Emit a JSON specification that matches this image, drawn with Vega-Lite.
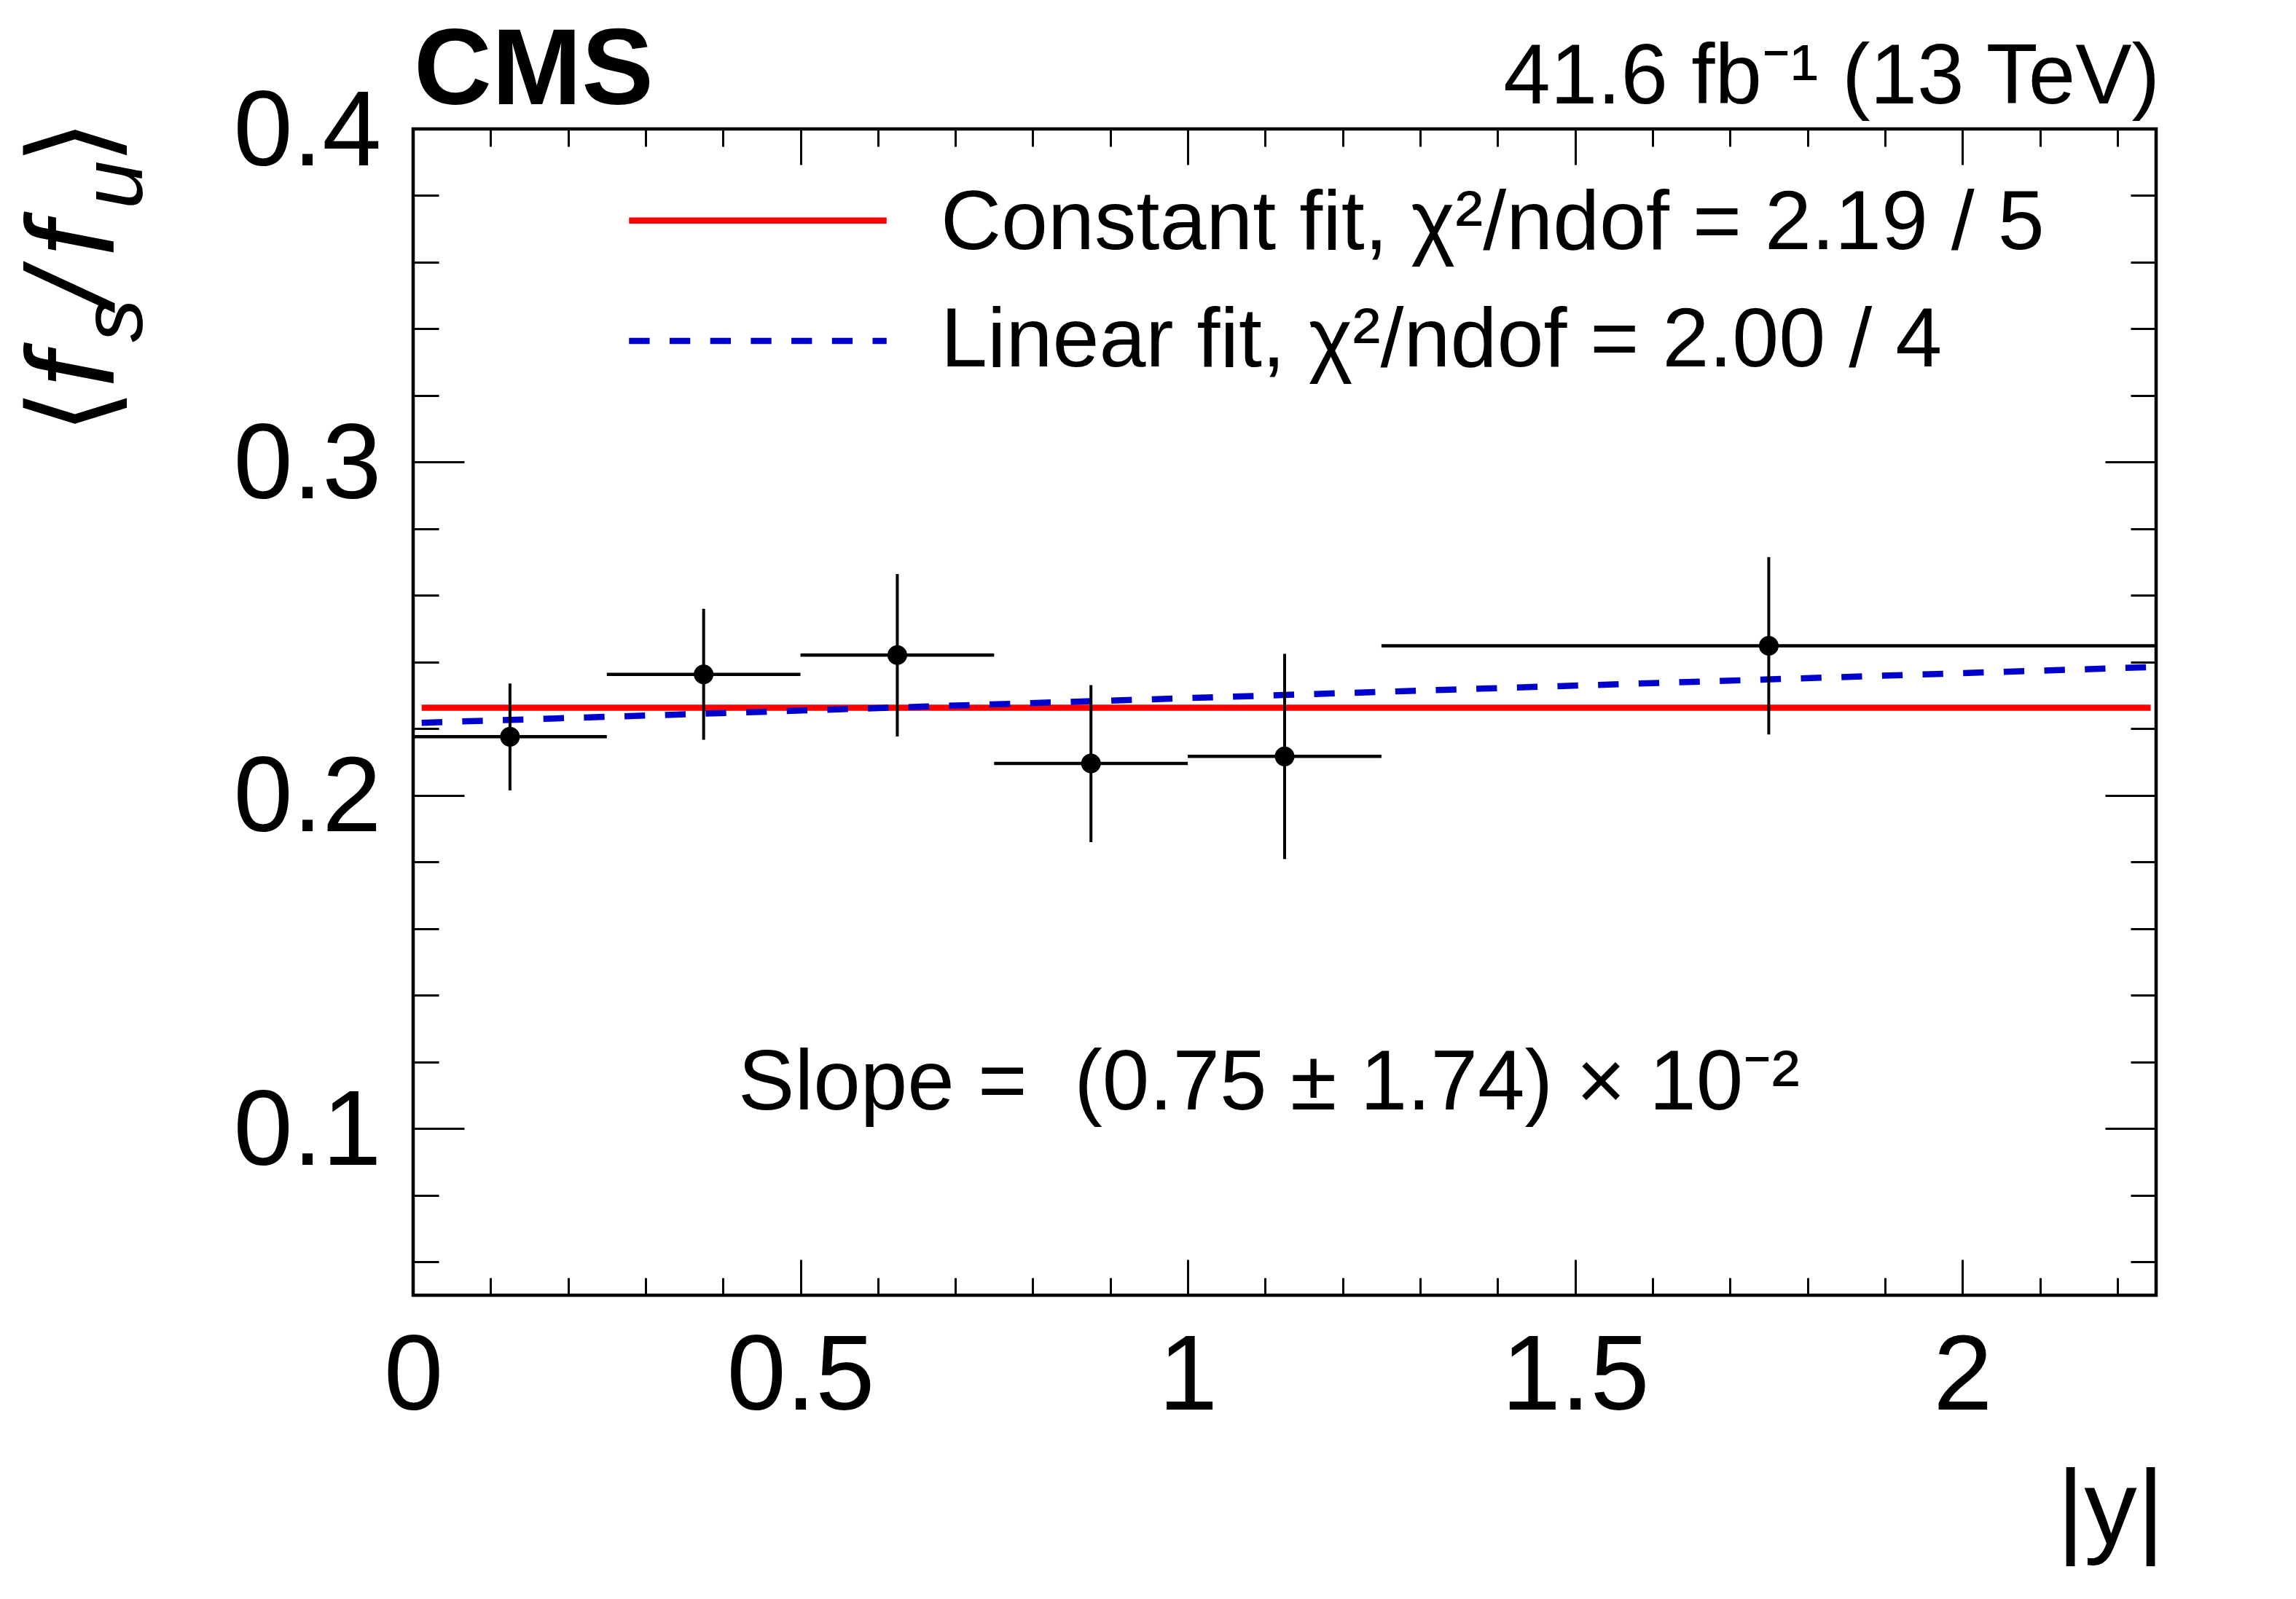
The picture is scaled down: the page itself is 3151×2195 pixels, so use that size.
{
  "$schema": "https://vega.github.io/schema/vega-lite/v6.json",
  "description": "CMS: <fs/fu> versus |y| with constant and linear fits",
  "width": 2392,
  "height": 1601,
  "autosize": {"type": "none"},
  "padding": {"left": 567, "top": 177, "right": 192, "bottom": 417},
  "background": "white",
  "config": {
    "view": {"stroke": "black", "strokeWidth": 4.5},
    "font": "Liberation Sans",
    "axis": {
      "domain": false,
      "grid": false,
      "tickColor": "black",
      "tickWidth": 3,
      "labelColor": "black",
      "labelFont": "Liberation Sans",
      "labelFontSize": 146,
      "labelLimit": 0,
      "labelFlush": false,
      "labelOverlap": false,
      "titleColor": "black",
      "titleFont": "Liberation Sans",
      "titleFontSize": 145,
      "titleFontWeight": "normal",
      "titleLimit": 0
    }
  },
  "datasets": {
    "bins": [
      {"absy": 0.125, "absy_lo": 0.0, "absy_hi": 0.25, "fsfu": 0.2176, "fsfu_lo": 0.2015, "fsfu_hi": 0.2336},
      {"absy": 0.375, "absy_lo": 0.25, "absy_hi": 0.5, "fsfu": 0.2363, "fsfu_lo": 0.2167, "fsfu_hi": 0.2560},
      {"absy": 0.625, "absy_lo": 0.5, "absy_hi": 0.75, "fsfu": 0.2421, "fsfu_lo": 0.2177, "fsfu_hi": 0.2664},
      {"absy": 0.875, "absy_lo": 0.75, "absy_hi": 1.0, "fsfu": 0.2096, "fsfu_lo": 0.1860, "fsfu_hi": 0.2331},
      {"absy": 1.125, "absy_lo": 1.0, "absy_hi": 1.25, "fsfu": 0.2117, "fsfu_lo": 0.1809, "fsfu_hi": 0.2425},
      {"absy": 1.75, "absy_lo": 1.25, "absy_hi": 2.25, "fsfu": 0.2449, "fsfu_lo": 0.2183, "fsfu_hi": 0.2715}
    ],
    "fits": [
      {"fit": "Constant fit", "absy": 0.011, "fsfu": 0.2263},
      {"fit": "Constant fit", "absy": 2.243, "fsfu": 0.2263},
      {"fit": "Linear fit", "absy": 0.011, "fsfu": 0.2218},
      {"fit": "Linear fit", "absy": 2.243, "fsfu": 0.2385}
    ],
    "legend": [
      {"fit": "Constant fit", "x": 0.2787, "x2": 0.6112, "y": 0.3725},
      {"fit": "Linear fit", "x": 0.2787, "x2": 0.6112, "y": 0.3364}
    ],
    "legendText": [
      {"label": "Constant fit, χ²/ndof = 2.19 / 5", "x": 0.681, "y": 0.364},
      {"label": "Linear fit, χ²/ndof = 2.00 / 4", "x": 0.681, "y": 0.3287}
    ]
  },
  "resolve": {"axis": {"x": "independent", "y": "independent"}},
  "layer": [
    {
      "data": {"name": "fits"},
      "mark": {"type": "line", "strokeWidth": 8.5, "clip": false},
      "encoding": {
        "x": {"field": "absy", "type": "quantitative", "scale": {"domain": [0, 2.25], "nice": false, "zero": false},
              "axis": {"orient": "top", "values": [0.1, 0.2, 0.3, 0.4, 0.6, 0.7, 0.8, 0.9, 1.1, 1.2, 1.3, 1.4, 1.6, 1.7, 1.8, 1.9, 2.1, 2.2], "labels": false, "tickSize": -24, "title": null}},
        "y": {"field": "fsfu", "type": "quantitative", "scale": {"domain": [0.05, 0.4], "nice": false, "zero": false},
              "axis": {"orient": "right", "values": [0.06, 0.08, 0.12, 0.14, 0.16, 0.18, 0.22, 0.24, 0.26, 0.28, 0.32, 0.34, 0.36, 0.38], "labels": false, "tickSize": -35, "title": null}},
        "color": {"field": "fit", "type": "nominal", "scale": {"domain": ["Constant fit", "Linear fit"], "range": ["#ff0000", "#0000cc"]}, "legend": null},
        "strokeDash": {"field": "fit", "type": "nominal", "scale": {"domain": ["Constant fit", "Linear fit"], "range": [[1, 0], [28.3, 27.4]]}, "legend": null}
      }
    },
    {
      "data": {"name": "bins"},
      "mark": {"type": "rule", "color": "black", "strokeWidth": 4.5},
      "encoding": {
        "x": {"field": "absy_lo", "type": "quantitative",
              "axis": {"orient": "bottom", "values": [0, 0.5, 1, 1.5, 2], "format": "~g", "ticks": false, "labelPadding": 41,
                       "title": "|y|", "titleAlign": "right", "titleBaseline": "alphabetic", "titleAngle": 0, "titleX": 2403, "titleY": 340}},
        "x2": {"field": "absy_hi"},
        "y": {"field": "fsfu", "type": "quantitative",
              "axis": {"orient": "left", "values": [0.1, 0.2, 0.3, 0.4], "format": "~g", "ticks": false, "labelPadding": 44, "labelOffset": 5, "title": null}}
      }
    },
    {
      "data": {"name": "bins"},
      "mark": {"type": "rule", "color": "black", "strokeWidth": 4},
      "encoding": {
        "x": {"field": "absy", "type": "quantitative",
              "axis": {"orient": "bottom", "values": [0, 0.5, 1, 1.5, 2], "labels": false, "tickSize": -49, "title": null}},
        "y": {"field": "fsfu_lo", "type": "quantitative",
              "axis": {"orient": "left", "values": [0.1, 0.2, 0.3, 0.4], "labels": false, "tickSize": -70, "title": null}},
        "y2": {"field": "fsfu_hi"}
      }
    },
    {
      "data": {"name": "bins"},
      "mark": {"type": "point", "filled": true, "shape": "circle", "size": 730, "color": "black", "opacity": 1},
      "encoding": {
        "x": {"field": "absy", "type": "quantitative",
              "axis": {"orient": "bottom", "values": [0.1, 0.2, 0.3, 0.4, 0.6, 0.7, 0.8, 0.9, 1.1, 1.2, 1.3, 1.4, 1.6, 1.7, 1.8, 1.9, 2.1, 2.2], "labels": false, "tickSize": -24, "title": null}},
        "y": {"field": "fsfu", "type": "quantitative",
              "axis": {"orient": "left", "values": [0.06, 0.08, 0.12, 0.14, 0.16, 0.18, 0.22, 0.24, 0.26, 0.28, 0.32, 0.34, 0.36, 0.38], "labels": false, "tickSize": -35, "title": null}}
      }
    },
    {
      "data": {"name": "legend"},
      "mark": {"type": "rule", "strokeWidth": 8.5},
      "encoding": {
        "x": {"field": "x", "type": "quantitative",
              "axis": {"orient": "top", "values": [0, 0.5, 1, 1.5, 2], "labels": false, "tickSize": -49, "title": null}},
        "x2": {"field": "x2"},
        "y": {"field": "y", "type": "quantitative",
              "axis": {"orient": "right", "values": [0.1, 0.2, 0.3, 0.4], "labels": false, "tickSize": -70, "title": null}},
        "color": {"field": "fit", "type": "nominal", "legend": null},
        "strokeDash": {"field": "fit", "type": "nominal", "legend": null}
      }
    },
    {
      "data": {"name": "legendText"},
      "mark": {"type": "text", "align": "left", "baseline": "alphabetic", "fontSize": 115, "font": "Liberation Sans", "color": "black"},
      "encoding": {
        "x": {"field": "x", "type": "quantitative", "axis": null},
        "y": {"field": "y", "type": "quantitative", "axis": null},
        "text": {"field": "label"}
      }
    },
    {
      "data": {"values": [{"label": "CMS", "x": 0.001, "y": 0.4074}]},
      "mark": {"type": "text", "align": "left", "baseline": "alphabetic", "fontSize": 148, "fontWeight": "bold", "font": "Liberation Sans", "color": "black"},
      "encoding": {
        "x": {"field": "x", "type": "quantitative", "axis": null},
        "y": {"field": "y", "type": "quantitative", "axis": null},
        "text": {"field": "label"}
      }
    },
    {
      "data": {"values": [{"label": "41.6 fb⁻¹ (13 TeV)", "x": 2.2549, "y": 0.40765}]},
      "mark": {"type": "text", "align": "right", "baseline": "alphabetic", "fontSize": 116, "font": "Liberation Sans", "color": "black"},
      "encoding": {
        "x": {"field": "x", "type": "quantitative", "axis": null},
        "y": {"field": "y", "type": "quantitative", "axis": null},
        "text": {"field": "label"}
      }
    },
    {
      "data": {"values": [{"label": "Slope = \u00a0(0.75 ± 1.74) × 10⁻²", "x": 0.4196, "y": 0.1058}]},
      "mark": {"type": "text", "align": "left", "baseline": "alphabetic", "fontSize": 116, "font": "Liberation Sans", "color": "black"},
      "encoding": {
        "x": {"field": "x", "type": "quantitative", "axis": null},
        "y": {"field": "y", "type": "quantitative", "axis": null},
        "text": {"field": "label"}
      }
    },
    {
      "data": {"values": [{"t": "⟨", "y": 0.3084}, {"t": "⟩", "y": 0.3893}]},
      "mark": {"type": "text", "align": "left", "baseline": "alphabetic", "angle": 270, "fontSize": 160, "font": "DejaVu Sans", "color": "black"},
      "encoding": {
        "x": {"datum": -0.389, "type": "quantitative", "axis": null},
        "y": {"field": "y", "type": "quantitative", "axis": null},
        "text": {"field": "t"}
      }
    },
    {
      "data": {"values": [{"t": "f", "y": 0.3224}, {"t": "/", "y": 0.3469}, {"t": "f", "y": 0.3617}]},
      "mark": {"type": "text", "align": "left", "baseline": "alphabetic", "angle": 270, "fontSize": 170, "fontStyle": "italic", "font": "Liberation Sans", "color": "black"},
      "encoding": {
        "x": {"datum": -0.3866, "type": "quantitative", "axis": null},
        "y": {"field": "y", "type": "quantitative", "axis": null},
        "text": {"field": "t"}
      }
    },
    {
      "data": {"values": [{"t": "s", "y": 0.336}, {"t": "u", "y": 0.376}]},
      "mark": {"type": "text", "align": "left", "baseline": "alphabetic", "angle": 270, "fontSize": 119, "fontStyle": "italic", "font": "Liberation Sans", "color": "black"},
      "encoding": {
        "x": {"datum": -0.35, "type": "quantitative", "axis": null},
        "y": {"field": "y", "type": "quantitative", "axis": null},
        "text": {"field": "t"}
      }
    }
  ]
}
